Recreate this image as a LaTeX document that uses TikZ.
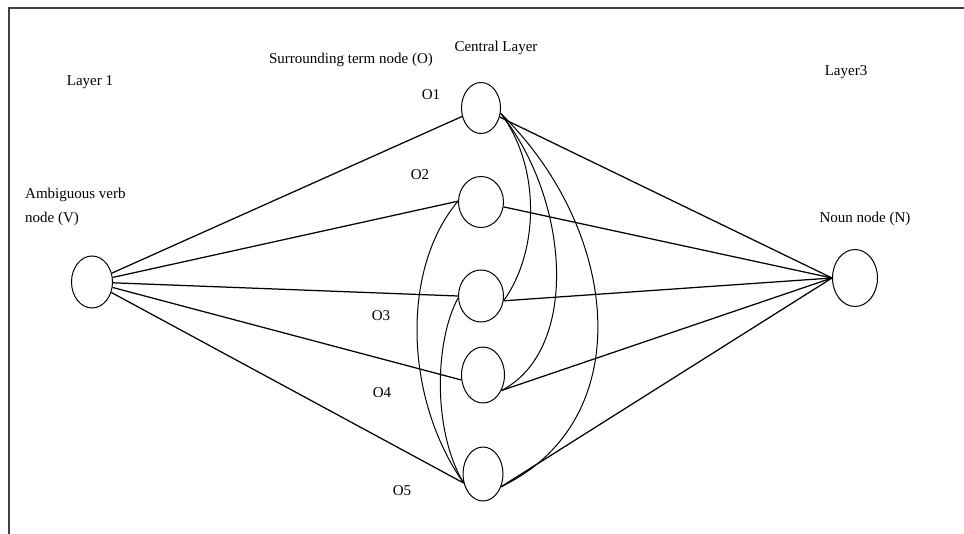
\documentclass[tikz,border=0pt]{standalone}
\usepackage{fontspec}
\setmainfont{Liberation Serif}
\usetikzlibrary{shapes.geometric}
\tikzset{
  nd/.style={draw, ellipse, inner sep=0pt, line width=1pt},
  lbl/.style={font=\fontsize{15}{24}\selectfont, inner sep=0pt},
  edge/.style={line width=1.25pt},
  curv/.style={line width=1pt},
  frame/.style={line width=1.6pt, black!75}
}
\begin{document}
\begin{tikzpicture}[x=1pt,y=-1pt]
\useasboundingbox (0,0) rectangle (964,534);
% frame (open at right and bottom)
\coordinate (fa) at (964,8);
\coordinate (fb) at (9,8);
\coordinate (fc) at (9,534);
\draw[frame] (fa) -- (fb) -- (fc);

% nodes
\node[nd, minimum width=41pt, minimum height=52pt] (v) at (92,282) {};
\node[nd, minimum width=45pt, minimum height=57pt] (n) at (855,278) {};
\node[nd, minimum width=39pt, minimum height=51pt] (o1) at (481,108) {};
\node[nd, minimum width=45pt, minimum height=51pt] (o2) at (481,202) {};
\node[nd, minimum width=45pt, minimum height=52pt] (o3) at (481,296) {};
\node[nd, minimum width=43pt, minimum height=56pt] (o4) at (483,375) {};
\node[nd, minimum width=40pt, minimum height=54pt] (o5) at (483,474) {};

% labels
\node[lbl, anchor=base] (l1) at (90,86) {Layer 1};
\node[lbl, anchor=base] (l3) at (846,76) {Layer3};
\node[lbl, anchor=base] (lc) at (496,52) {Central Layer};
\node[lbl, anchor=base] (ls) at (351,64) {Surrounding term node (O)};
\node[lbl, anchor=base west, align=left] (lv) at (25,223) {Ambiguous verb\\node (V)};
\node[lbl, anchor=base] (ln) at (865,223) {Noun node (N)};
\node[lbl, anchor=base] (t1) at (431,100) {O1};
\node[lbl, anchor=base] (t2) at (420,180) {O2};
\node[lbl, anchor=base] (t3) at (381,321) {O3};
\node[lbl, anchor=base] (t4) at (382,398) {O4};
\node[lbl, anchor=base] (t5) at (402,495) {O5};

% straight connectors from V
\draw[edge] (v) -- (o1);
\draw[edge] (v) -- (o2.178);
\draw[edge] (v) -- (o3.180);
\draw[edge] (v) -- (o4.193);
\draw[edge] (v) -- (o5.205);
% straight connectors to N
\draw[edge] (o1) -- (n.west);
\draw[edge] (o2) -- (n.west);
\draw[edge] (o3.-12) -- (n.west);
\draw[edge] (o4.-40) -- (n.west);
\draw[edge] (o5.-35) -- (n.west);

% curved connectors
\draw[curv] (o1.-15) .. controls (540,165) and (540,250) .. (o3.-12);
\draw[curv] (o1.-15) .. controls (570,200) and (580,350) .. (o4.-40);
\draw[curv] (o1.-15) .. controls (620,230) and (640,420) .. (o5.-35);
\draw[curv] (o2.178) .. controls (400,270) and (405,400) .. (o5.205);
\draw[curv] (o3.185) .. controls (435,340) and (432,430) .. (o5.205);
\end{tikzpicture}
\end{document}
